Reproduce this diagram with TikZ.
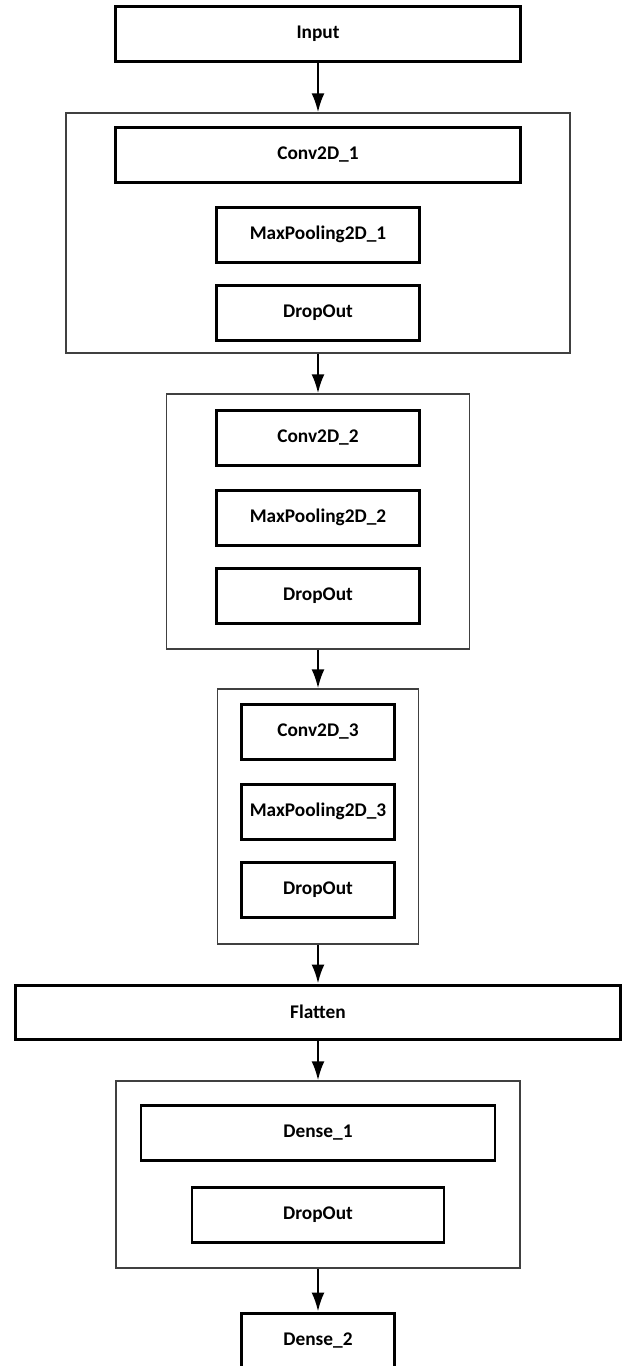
\documentclass[tikz,border=0pt]{standalone}
\usepackage{fontspec}
\setmainfont{Carlito}
\usetikzlibrary{positioning,arrows.meta}
\begin{document}
\begin{tikzpicture}[
  layer/.style={rectangle, draw, line width=1.7pt, minimum height=1.1cm, inner sep=0pt, font=\bfseries\fontsize{11}{13}\selectfont},
  group/.style={rectangle, draw=black!75, line width=0.8pt, inner sep=0pt},
  arr/.style={-{Latex[length=0.38cm,width=0.26cm]}, line width=1.3pt},
  node distance=1.6cm
]
\useasboundingbox (0,0) rectangle (12.54,-27.32);

\node[layer, minimum width=8.1cm] (input) at (6.36,-0.67) {Input};

% first conv block
\node[group, minimum width=10.08cm, minimum height=4.8cm] (block1) at (6.36,-4.66) {};
\node[layer, minimum width=8.1cm, below of=input, node distance=2.42cm] (conv1) {Conv2D\_1};
\node[layer, minimum width=4.06cm, below of=conv1] (pool1) {MaxPooling2D\_1};
\node[layer, minimum width=4.06cm, below of=pool1, node distance=1.57cm] (drop1) {DropOut};

% second conv block
\node[group, minimum width=6.06cm, minimum height=5.1cm] (block2) at (6.36,-10.43) {};
\node[layer, minimum width=4.06cm, below of=drop1, node distance=2.49cm] (conv2) {Conv2D\_2};
\node[layer, minimum width=4.06cm, below of=conv2] (pool2) {MaxPooling2D\_2};
\node[layer, minimum width=4.06cm, below of=pool2, node distance=1.56cm] (drop2) {DropOut};

% third conv block
\node[group, minimum width=4.02cm, minimum height=5.1cm] (block3) at (6.36,-16.33) {};
\node[layer, minimum width=3.06cm, below of=drop2, node distance=2.72cm] (conv3) {Conv2D\_3};
\node[layer, minimum width=3.06cm, below of=conv3] (pool3) {MaxPooling2D\_3};
\node[layer, minimum width=3.06cm, below of=pool3, node distance=1.56cm] (drop3) {DropOut};

\node[layer, minimum width=12.1cm, minimum height=1.08cm, below of=drop3, node distance=2.45cm] (flat) {Flatten};

% dense block
\node[group, minimum width=8.08cm, minimum height=3.74cm] (block4) at (6.36,-23.49) {};
\node[layer, minimum width=7.08cm, below of=flat, node distance=2.42cm] (dense1) {Dense\_1};
\node[layer, minimum width=5.04cm, below of=dense1, node distance=1.63cm] (drop4) {DropOut};

\node[layer, minimum width=3.06cm, below of=drop4, node distance=2.52cm] (dense2) {Dense\_2};

\draw[arr] (input) -- (block1);
\draw[arr] (block1) -- (block2);
\draw[arr] (block2) -- (block3);
\draw[arr] (block3) -- (flat);
\draw[arr] (flat) -- (block4);
\draw[arr] (block4) -- (dense2);
\end{tikzpicture}
\end{document}
